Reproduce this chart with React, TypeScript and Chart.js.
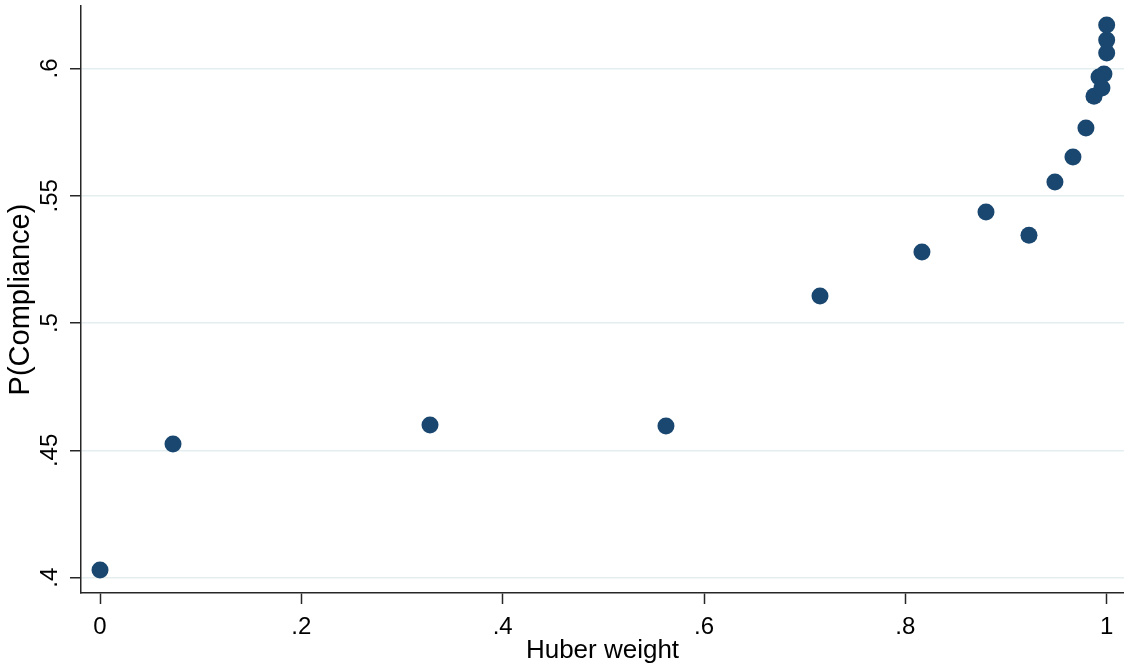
import React, { useEffect, useRef } from 'react';
import { Chart, registerables } from 'chart.js';

Chart.register(...registerables);

// Data
const huberWeight = [0, 0.0725, 0.3278, 0.5622, 0.7152, 0.8165, 0.8801, 0.9228, 0.9486, 0.9665, 0.9794, 0.9874, 0.9924, 0.9953, 0.9973, 1.0, 1.0, 1.0];
const pCompliance = [0.403, 0.4525, 0.46, 0.4596, 0.5106, 0.5279, 0.5436, 0.5345, 0.5554, 0.5652, 0.5766, 0.5891, 0.5966, 0.5923, 0.5978, 0.606, 0.6111, 0.617];

const xTickValues = [0, 0.2, 0.4, 0.6, 0.8, 1];
const xTickLabels = ['0', '.2', '.4', '.6', '.8', '1'];
const yTickValues = [0.4, 0.45, 0.5, 0.55, 0.6];
const yTickLabels = ['.4', '.45', '.5', '.55', '.6'];

const xTitle = 'Huber weight';
const yTitle = 'P(Compliance)';

const FONT = '"Liberation Sans", Arial, sans-serif';
const MARKER = '#1a476f';
const AXIS = '#262626';
const GRID = '#e4edef';

const yTickLabelPlugin = {
  id: 'yTickLabels',
  afterDraw(chart: any) {
    const ctx = chart.ctx;
    const y = chart.scales.y;
    ctx.save();
    ctx.fillStyle = '#000';
    ctx.font = `24px ${FONT}`;
    ctx.textAlign = 'center';
    ctx.textBaseline = 'middle';
    yTickValues.forEach((v, i) => {
      const py = y.getPixelForValue(v);
      ctx.save();
      ctx.translate(50, py);
      ctx.rotate(-Math.PI / 2);
      ctx.fillText(yTickLabels[i], 0, 0);
      ctx.restore();
    });
    ctx.restore();
  },
};

export default function App() {
  const ref = useRef<HTMLCanvasElement | null>(null);

  useEffect(() => {
    if (!ref.current) return;
    const chart = new Chart(ref.current, {
      type: 'scatter',
      data: {
        datasets: [
          {
            label: yTitle,
            data: huberWeight.map((x, i) => ({ x, y: pCompliance[i] })),
            backgroundColor: MARKER,
            borderColor: MARKER,
            borderWidth: 0,
            pointRadius: 8.5,
            pointHoverRadius: 8.5,
          },
        ],
      },
      options: {
        responsive: false,
        animation: false,
        events: [],
        layout: { autoPadding: false, padding: { top: 6, right: 0, left: 0, bottom: 0 } },
        plugins: {
          legend: { display: false },
          tooltip: { enabled: false },
        },
        scales: {
          x: {
            type: 'linear',
            min: -0.0189,
            max: 1.0172,
            afterBuildTicks: (s: any) => {
              s.ticks = xTickValues.map((v) => ({ value: v }));
            },
            afterFit: (s: any) => {
              s.height = 78;
              s.paddingLeft = 0;
              s.paddingRight = 0;
            },
            ticks: {
              autoSkip: false,
              maxRotation: 0,
              minRotation: 0,
              padding: 9,
              color: '#000',
              font: { family: FONT, size: 24 },
              callback: (v: any) => xTickLabels[xTickValues.indexOf(Number(v))] ?? '',
            },
            grid: {
              drawOnChartArea: false,
              drawTicks: true,
              tickLength: 11,
              tickColor: AXIS,
              tickWidth: 1.5,
            },
            border: { display: true, color: AXIS, width: 1.5 },
            title: {
              display: true,
              text: xTitle,
              color: '#000',
              font: { family: FONT, size: 26 },
              padding: { top: 0, bottom: 5 },
            },
          },
          y: {
            type: 'linear',
            min: 0.394,
            max: 0.6245,
            afterBuildTicks: (s: any) => {
              s.ticks = yTickValues.map((v) => ({ value: v }));
            },
            afterFit: (s: any) => {
              s.width = 81;
              s.paddingTop = 0;
              s.paddingBottom = 0;
            },
            ticks: {
              display: false,
            },
            grid: {
              color: GRID,
              lineWidth: 1.5,
              drawTicks: true,
              tickLength: 11,
              tickColor: AXIS,
              tickWidth: 1.5,
            },
            border: { display: true, color: AXIS, width: 1.5 },
            title: {
              display: true,
              text: yTitle,
              color: '#000',
              font: { family: FONT, size: 29 },
              padding: { top: 3.5, bottom: 0 },
            },
          },
        },
      },
      plugins: [yTickLabelPlugin],
    });
    return () => chart.destroy();
  }, []);

  return (
    <div style={{ position: 'absolute', left: 0, top: 0, width: 1124, height: 671, background: '#fff' }}>
      <canvas ref={ref} width={1124} height={671} style={{ display: 'block' }} />
    </div>
  );
}
